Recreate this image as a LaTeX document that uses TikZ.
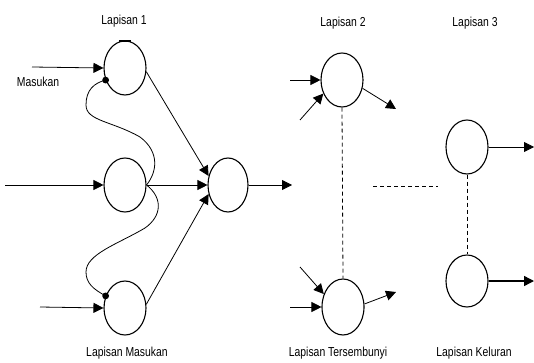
\documentclass[tikz,border=0pt]{standalone}
\usepackage{fontspec}
\setmainfont{Liberation Sans}
\usetikzlibrary{shapes.geometric,arrows.meta}
\newcommand{\narrowtext}[1]{\scalebox{0.8}[1]{#1}}
\tikzset{
  neuron/.style={ellipse,draw,line width=1.1pt,inner sep=0pt,minimum width=42pt,minimum height=54pt},
  link/.style={line width=0.8pt,-{Triangle[length=10pt,width=10pt]}},
  guide/.style={line width=0.8pt,dash pattern=on 4pt off 3pt},
  caption/.style={font=\fontsize{13}{15}\selectfont,inner sep=0pt}
}
\begin{document}
\begin{tikzpicture}[x=1pt,y=-1pt]
\useasboundingbox (0,0) rectangle (534,363);
% layer 1 (input), hidden hub, layer 2 and layer 3
\node[neuron] (a1) at (125,68) {};
\node[neuron] (a2) at (125,185) {};
\node[neuron] (a3) at (125,308) {};
\node[neuron,minimum width=40pt] (h) at (228,185) {};
\node[neuron] (b1) at (342,80) {};
\node[neuron,minimum height=56pt] (b2) at (343,307) {};
\node[neuron] (c1) at (467,147) {};
\node[neuron,minimum height=52pt] (c2) at (467,281) {};
% small mark on top of the first neuron
\draw[line width=1.6pt] (119,41) -- (131,41);
% free ends of connectors
\coordinate (in1) at (32,67);
\coordinate (in2) at (5,185);
\coordinate (in3) at (40,307);
\coordinate (hout) at (292,185);
\coordinate (b1in) at (290,80);
\coordinate (b1diag) at (300,120);
\coordinate (b1out) at (396,109);
\coordinate (b2in) at (290,307);
\coordinate (b2diag) at (300,267);
\coordinate (b2out) at (396,292);
\coordinate (c1out) at (534,147);
\coordinate (c2out) at (534,281);
\coordinate (dl) at (373,186);
\coordinate (dr) at (438,186);
% inputs
\draw[link] (in1) -- (a1.west);
\draw[link] (in2) -- (a2.west);
\draw[link] (in3) -- (a3.west);
% layer 1 to hub
\draw[link] (a1.-10) -- (h.155);
\draw[link] (a2.east) -- (h.west);
\draw[link] (a3.10) -- (h.205);
\draw[link] (h.east) -- (hout);
% feedback loops ending in dots
\draw[line width=0.8pt] (a2.east) .. controls (157,172) and (160,152) .. (140,137)
  .. controls (112,121) and (86,121) .. (86,105)
  .. controls (86,90) and (94,83) .. (a1.212);
\draw[line width=0.8pt] (a2.east) .. controls (163,198) and (162,216) .. (145,228)
  .. controls (118,244) and (86,254) .. (86,272)
  .. controls (86,283) and (93,289) .. (a3.148);
\fill (a1.212) circle (3.4pt);
\fill (a3.148) circle (3.4pt);
% layer 2
\draw[link] (b1in) -- (b1.west);
\draw[link] (b1diag) -- (b1.216);
\draw[link] (b1.-22) -- (b1out);
\draw[link] (b2in) -- (b2.west);
\draw[link] (b2diag) -- (b2.146);
\draw[link] (b2.8) -- (b2out);
\draw[guide] (b1.south) -- (b2.north);
\draw[guide] (dl) -- (dr);
% layer 3
\draw[guide] (c1.south) -- (c2.north);
\draw[link] (c1.east) -- (c1out);
\draw[link,line width=1.4pt] (c2.east) -- (c2out);
% labels
\node[caption] (t1) at (124,21) {\narrowtext{Lapisan 1}};
\node[caption] (t2) at (343,23) {\narrowtext{Lapisan 2}};
\node[caption] (t3) at (475,23) {\narrowtext{Lapisan 3}};
\node[caption] (tin) at (38,82) {\narrowtext{Masukan}};
\node[caption] (l1) at (127,353) {\narrowtext{Lapisan Masukan}};
\node[caption] (l2) at (338,353) {\narrowtext{Lapisan Tersembunyi}};
\node[caption] (l3) at (474,353) {\narrowtext{Lapisan Keluran}};
\end{tikzpicture}
\end{document}
